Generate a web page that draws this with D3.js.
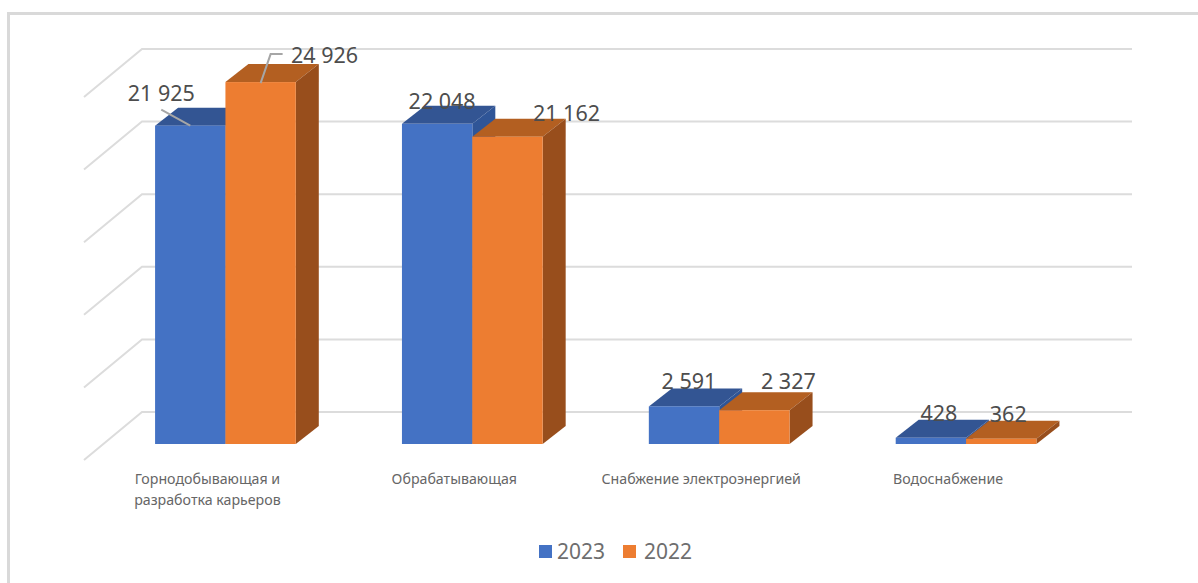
<!DOCTYPE html>
<html>
<head>
<meta charset="utf-8">
<script src="https://cdn.jsdelivr.net/npm/d3@7"></script>
<style>
  html, body { margin: 0; padding: 0; background: #fff; }
  svg { display: block; }
  text { font-family: "Noto Sans", sans-serif; }
</style>
</head>
<body>
<svg id="chart" width="1198" height="583"></svg>
<script>
var categories = ['Горнодобывающая и|разработка карьеров', 'Обрабатывающая', 'Снабжение электроэнергией', 'Водоснабжение'];
var seriesNames = ['2023', '2022'];
var values2023 = [21925, 22048, 2591, 428];
var values2022 = [24926, 21162, 2327, 362];
var labels2023 = ['21 925', '22 048', '2 591', '428'];
var labels2022 = ['24 926', '21 162', '2 327', '362'];
var gridValues = [0, 5000, 10000, 15000, 20000, 25000];

// fill colours: front, top, side
var colors = [
  {front: '#4472c4', top: '#335593', side: '#2f5597'},
  {front: '#ed7d31', top: '#b35f21', side: '#984e1c'}
];

// hand placed label offsets from the front top centre of each bar
var labelOffsets2023 = [[-29, -25], [5, -15], [5, -17], [8, -17]];
var labelOffsets2022 = [[64, -19], [59, -16], [34, -21], [7, -17]];

var svg = d3.select('#chart');

var baseY = 444;
var depthX = 23, depthY = 18;     // bar depth
var wallX = 58, wallY = 48;       // floor diagonal of the gridlines
var wallShift = 32;               // back wall base sits above bar base

var y = d3.scaleLinear().domain([0, 25000]).range([baseY, baseY - 363]);
var x = d3.scaleBand().domain(categories).range([102, 1089.5]).paddingInner(0.43).paddingOuter(0.215);
var x1 = d3.scaleBand().domain([0, 1]).range([0, x.bandwidth()]);

// outer border, top and left only
svg.append('path')
  .attr('d', 'M8.5,583V13.5H1198')
  .attr('fill', 'none')
  .attr('stroke', '#d9d9d9')
  .attr('stroke-width', 3);

// gridlines on the back wall and floor side
var grid = svg.append('g');
gridValues.forEach(function(v) {
  var wy = y(v) - wallShift;
  grid.append('path')
    .attr('d', 'M84,' + (wy + wallY) + 'L142,' + wy + 'H1132')
    .attr('fill', 'none')
    .attr('stroke', '#dcdcdc')
    .attr('stroke-width', 2);
});

function drawBars(values, s) {
  var g = svg.append('g');
  var c = colors[s];
  values.forEach(function(v, i) {
    var left = x(categories[i]) + x1(s);
    var right = left + x1.bandwidth();
    var top = y(v);
    // top face
    g.append('path')
      .attr('d', 'M' + left + ',' + top + 'L' + (left + depthX) + ',' + (top - depthY) + 'L' + (right + depthX) + ',' + (top - depthY) + 'L' + right + ',' + top + 'Z')
      .attr('fill', c.top);
    // side face
    g.append('path')
      .attr('d', 'M' + right + ',' + top + 'L' + (right + depthX) + ',' + (top - depthY) + 'L' + (right + depthX) + ',' + (baseY - depthY) + 'L' + right + ',' + baseY + 'Z')
      .attr('fill', c.side);
    // front face
    g.append('rect')
      .attr('x', left)
      .attr('y', top)
      .attr('width', x1.bandwidth())
      .attr('height', baseY - top)
      .attr('fill', c.front);
  });
}
drawBars(values2023, 0);
drawBars(values2022, 1);

function barCentre(i, s) {
  return x(categories[i]) + x1(s) + x1.bandwidth() / 2;
}

// leader lines on the first group only
svg.append('path')
  .attr('d', 'M' + (barCentre(0, 0) - 29) + ',' + (y(values2023[0]) - 16) + 'L' + barCentre(0, 0) + ',' + y(values2023[0]))
  .attr('fill', 'none').attr('stroke', '#a6a6a6').attr('stroke-width', 2);
svg.append('path')
  .attr('d', 'M' + barCentre(0, 1) + ',' + (y(values2022[0]) + 1) + 'L' + (barCentre(0, 1) + 10) + ',' + (y(values2022[0]) - 28) + 'h12')
  .attr('fill', 'none').attr('stroke', '#a6a6a6').attr('stroke-width', 2);

function drawLabels(values, labels, offsets, s) {
  svg.append('g').selectAll('text')
    .data(values)
    .enter().append('text')
    .attr('x', function(d, i) { return barCentre(i, s) + offsets[i][0]; })
    .attr('y', function(d, i) { return y(d) + offsets[i][1]; })
    .attr('text-anchor', 'middle')
    .attr('font-size', 21.5)
    .attr('fill', '#4d4d4d')
    .text(function(d, i) { return labels[i]; });
}
drawLabels(values2023, labels2023, labelOffsets2023, 0);
drawLabels(values2022, labels2022, labelOffsets2022, 1);

// category labels
categories.forEach(function(cat, i) {
  var t = svg.append('text')
    .attr('text-anchor', 'middle')
    .attr('font-size', 14.2)
    .attr('fill', '#666666');
  cat.split('|').forEach(function(line, k) {
    t.append('tspan')
      .attr('x', x(cat) + x.bandwidth() / 2 - 18)
      .attr('y', 484 + k * 21)
      .text(line);
  });
});

// legend
var legendX = [539, 623];
seriesNames.forEach(function(name, s) {
  svg.append('rect')
    .attr('x', legendX[s]).attr('y', 545)
    .attr('width', 13).attr('height', 13)
    .attr('fill', colors[s].front);
  svg.append('text')
    .attr('x', legendX[s] + 18 + s * 3).attr('y', 559)
    .attr('font-size', 21)
    .attr('fill', '#6e6e6e')
    .text(name);
});
</script>
</body>
</html>
